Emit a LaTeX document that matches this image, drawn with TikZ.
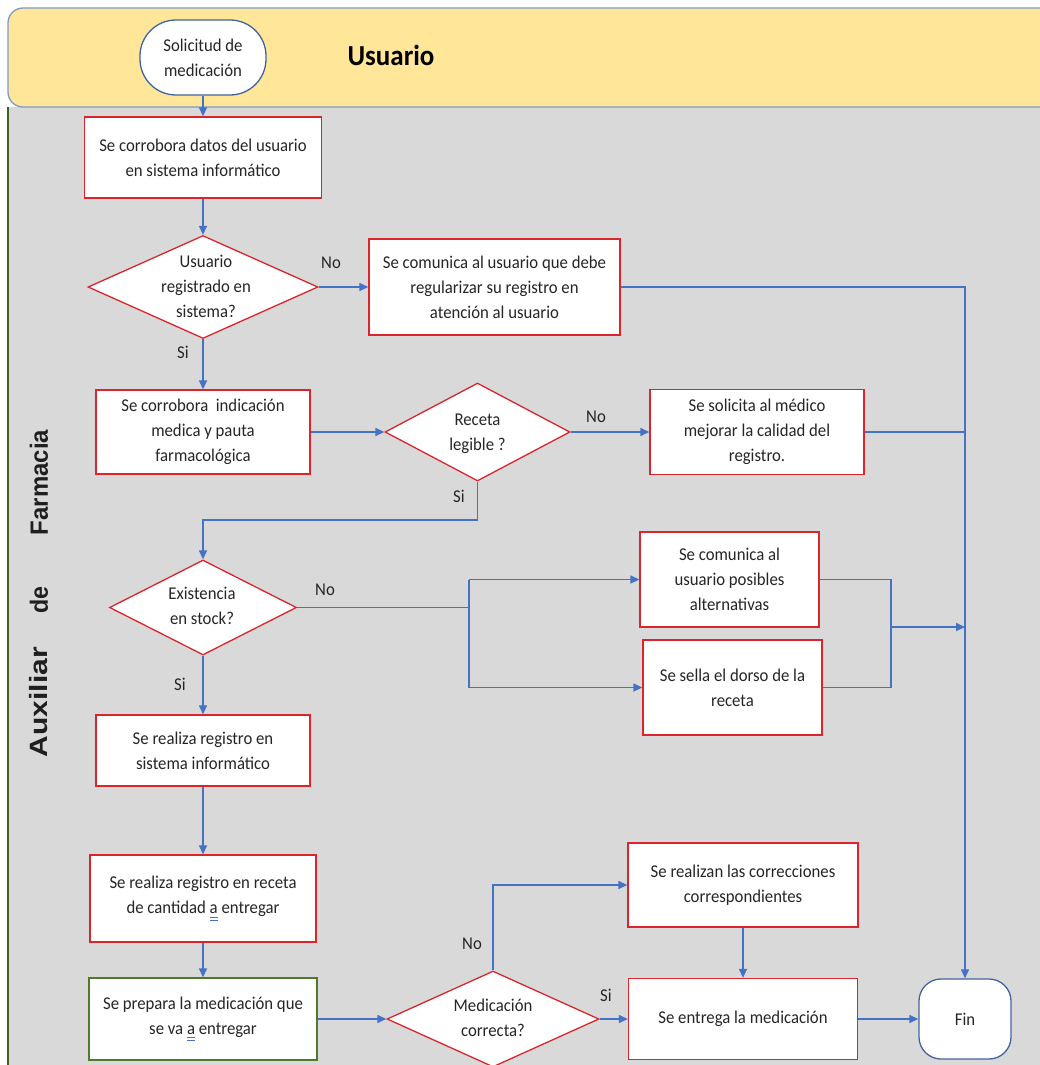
\documentclass[tikz,border=0pt]{standalone}
\usepackage{fontspec}
\usepackage{graphicx}
\setmainfont{Carlito}[FakeStretch=0.93]
\newfontfamily\lanefont{Liberation Sans}
\usetikzlibrary{shapes.geometric,arrows.meta}
\definecolor{lineblue}{HTML}{4472C4}
\definecolor{boxred}{HTML}{D9262C}
\definecolor{boxgreen}{HTML}{4E7A2E}
\definecolor{laneyellow}{HTML}{FFE699}
\definecolor{lanegray}{HTML}{D9D9D9}
\definecolor{laneedge}{HTML}{7F9BC8}
\definecolor{termedge}{HTML}{41659F}
% word with a blue double underline beneath it
\newcommand{\dbl}[1]{\setbox0=\hbox{#1}\rlap{\textcolor{lineblue}{\rule[-4pt]{\wd0}{0.9pt}\kern-\wd0\rule[-7pt]{\wd0}{0.9pt}}}\box0\relax}
\tikzset{
  txt/.style={font=\fontsize{18}{25}\selectfont, align=center, text=black!85},
  procbox/.style={draw=boxred, line width=1.3pt, fill=white, rectangle, inner sep=0pt},
  prepbox/.style={draw=boxgreen, line width=1.3pt, fill=white, rectangle, inner sep=0pt},
  decision/.style={draw=boxred, line width=1.3pt, fill=white, diamond, inner sep=0pt, shape aspect=2},
  terminal/.style={draw=termedge, line width=1.3pt, fill=white, rectangle, inner sep=0pt},
  flow/.style={draw=lineblue, line width=1.3pt},
  arrow/.style={flow, -{Triangle[length=9pt,width=8pt]}},
  lbl/.style={font=\fontsize{18}{22}\selectfont, text=black!85},
  lanelbl/.style={rotate=90, font=\lanefont\fontsize{25}{25}\selectfont\bfseries, text=black!88, inner sep=0pt}
}
\begin{document}
\begin{tikzpicture}[x=1pt,y=-1pt]
\useasboundingbox (0,0) rectangle (1040,1065);
\begin{scope}
\clip (0,0) rectangle (1040,1065);
% swimlanes
\fill[lanegray] (8,107) rectangle (1080,1100);
\draw[boxgreen!80!black, line width=1.2pt] (8,107) -- (8,1100);
\draw[laneedge, line width=1.3pt, fill=laneyellow, rounded corners=15pt] (8,107) rectangle (1080,8);
\node[font=\fontsize{29}{29}\selectfont\bfseries] (lane1) at (391,55) {Usuario};
\node[lanelbl] (lane2a) at (39,702) {\scalebox{1.2}[1]{Auxiliar}};
\node[lanelbl] (lane2b) at (39,600) {\scalebox{0.93}[1]{de}};
\node[lanelbl] (lane2c) at (39,482.5) {\scalebox{0.96}[1]{Farmacia}};

% start and steps
\node[terminal, rounded corners=36pt, minimum width=126pt, minimum height=75pt, txt] (start) at (203,57.5) {Solicitud de\\medicación};
\node[procbox, minimum width=237pt, minimum height=81pt, txt] (b1) at (203,157.5) {Se corrobora datos del usuario\\en sistema informático};
\node[decision, minimum width=230pt, minimum height=103pt] (d1) at (203,287) {};
\node[txt] (d1t) at (206,286) {Usuario\\registrado en\\sistema?};
\node[procbox, minimum width=251pt, minimum height=96pt, txt] (cA) at (494.5,287) {Se comunica al usuario que debe\\regularizar su registro en\\atención al usuario};
\node[procbox, minimum width=214pt, minimum height=84pt, txt] (b2) at (203,432) {Se corrobora\ \ indicación\\medica y pauta\\farmacológica};
\node[decision, minimum width=185pt, minimum height=98pt] (d2) at (477.5,432) {};
\node[txt] (d2t) at (477.5,434) {Receta\\legible ?};
\node[procbox, minimum width=214pt, minimum height=85pt, txt] (cB) at (757,432) {Se solicita al médico\\mejorar la calidad del\\registro.};
\node[decision, minimum width=187pt, minimum height=95pt] (d3) at (203,607.5) {};
\node[txt] (d3t) at (202,606) {Existencia\\en stock?};
\node[procbox, minimum width=179pt, minimum height=95pt, txt] (cC) at (729.5,579.5) {Se comunica al\\usuario posibles\\alternativas};
\node[procbox, minimum width=179pt, minimum height=95pt, txt] (cD) at (732.5,687.5) {Se sella el dorso de la\\receta};
\node[procbox, minimum width=214pt, minimum height=71pt, txt] (b3) at (203,750.5) {Se realiza registro en\\sistema informático};
\node[procbox, minimum width=226pt, minimum height=87pt, txt] (b4) at (203,898.5) {Se realiza registro en receta\\de cantidad \dbl{a} entregar};
\node[prepbox, minimum width=228pt, minimum height=82pt, txt] (b5) at (203,1019) {Se prepara la medicación que\\se va \dbl{a} entregar};
\node[decision, minimum width=212pt, minimum height=96pt] (d4) at (493,1019) {};
\node[txt] (d4t) at (493,1018) {Medicación\\correcta?};
\node[procbox, minimum width=230pt, minimum height=84pt, txt] (cE) at (743,885) {Se realizan las correcciones\\correspondientes};
\node[procbox, minimum width=229pt, minimum height=81pt, txt] (cF) at (743,1019) {Se entrega la medicación};
\node[terminal, rounded corners=22pt, minimum width=92pt, minimum height=80pt, txt] (fin) at (965,1019) {Fin};

% junction points
\coordinate (j1) at (477.5,520);
\coordinate (j2) at (203,520);
\coordinate (j3) at (469,607.5);
\coordinate (j4) at (j3 |- cC.west);
\coordinate (j5) at (j3 |- cD.west);
\coordinate (j8) at (891,627);
\coordinate (j6) at (j8 |- cC.east);
\coordinate (j7) at (j8 |- cD.east);
\coordinate (bus3) at (965,627);
\coordinate (bus1) at (bus3 |- cA.east);
\coordinate (bus2) at (bus3 |- cB.east);
\coordinate (j9) at (493,885);

% connectors
\draw[arrow] (start.south) -- (b1.north);
\draw[arrow] (b1.south) -- (d1.north);
\draw[arrow] (d1.east) -- (cA.west);
\draw[arrow] (d1.south) -- (b2.north);
\draw[arrow] (b2.east) -- (d2.west);
\draw[arrow] (d2.east) -- (cB.west);
\draw[arrow] (d2.south) -- (j1) -- (j2) -- (d3.north);
\draw[flow] (d3.east) -- (j3);
\draw[flow] (j4) -- (j5);
\draw[arrow] (j4) -- (cC.west);
\draw[arrow] (j5) -- (cD.west);
\draw[flow] (cC.east) -- (j6) -- (j7) -- (cD.east);
\draw[arrow, line width=2pt] (j8) -- (bus3);
\draw[arrow] (d3.south) -- (b3.north);
\draw[arrow] (b3.south) -- (b4.north);
\draw[arrow] (b4.south) -- (b5.north);
\draw[arrow] (b5.east) -- (d4.west);
\draw[arrow] (d4.north) -- (j9) -- (cE.west);
\draw[arrow] (d4.east) -- (cF.west);
\draw[arrow] (cE.south) -- (cF.north);
\draw[arrow] (cF.east) -- (fin.west);
\draw[arrow] (cA.east) -- (bus1) -- (fin.north);
\draw[flow] (cB.east) -- (bus2);

% branch labels
\node[lbl] (no1) at (331,263) {No};
\node[lbl] (si1) at (183,352) {Si};
\node[lbl] (no2) at (596,417) {No};
\node[lbl] (si2) at (459,496) {Si};
\node[lbl] (no3) at (325,590) {No};
\node[lbl] (si3) at (180,684) {Si};
\node[lbl] (no4) at (472,944) {No};
\node[lbl] (si4) at (606,995) {Si};
\end{scope}
\end{tikzpicture}
\end{document}
